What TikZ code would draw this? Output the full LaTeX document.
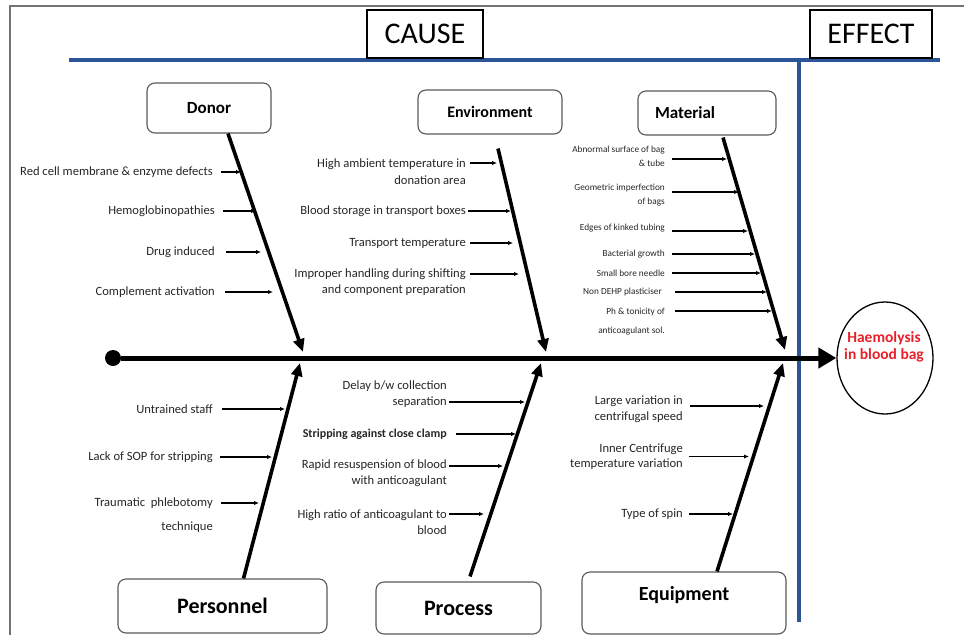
\documentclass[tikz,border=0pt]{standalone}
\usepackage{fontspec}
\setmainfont{Carlito}
\usetikzlibrary{arrows.meta,calc,shapes.geometric}
\definecolor{causeblue}{RGB}{43,85,151}
\definecolor{effred}{RGB}{232,32,42}

\begin{document}
\begin{tikzpicture}[x=1pt,y=-1pt,
    head/.style={draw=black,fill=white,line width=1.2pt,minimum height=48pt,inner sep=0pt,font=\fontsize{30}{30}\selectfont},
    cat/.style={draw=black!65,fill=white,rounded corners=8pt,line width=1.1pt,inner sep=0pt,font=\bfseries\fontsize{17}{17}\selectfont},
    lbl/.style={anchor=east,align=right,inner sep=0pt,text=black!85,font=\fontsize{12.6}{17}\selectfont},
    small/.style={lbl,font=\fontsize{9.3}{14}\selectfont},
    sub/.style={line width=1.2pt,-{Latex[length=5pt,width=4.5pt]}},
    bone/.style={line width=3.6pt,-{Triangle[length=13pt,width=11pt]}},
    spine/.style={line width=5pt,-{Triangle[length=18pt,width=20pt]}}]
  \useasboundingbox (0,0) rectangle (964,635);
  % frame and cause / effect bar
  \draw[black!55,line width=1.3pt] (10,635) -- (10,6) -- (964,6);
  \draw[causeblue,line width=4pt] (69,60) -- (940,60);
  \draw[causeblue,line width=4pt] (799,60) -- (799,622);
  \node[head,minimum width=116pt] (cause) at (425,34) {CAUSE};
  \node[head,minimum width=122pt] (effect) at (871,34) {EFFECT};

  % main categories
  \node[cat,minimum width=124pt,minimum height=50pt] (donor) at (209,108) {Donor};
  \node[cat,minimum width=144pt,minimum height=44pt,font=\bfseries\fontsize{16}{16}\selectfont] (env) at (490,112) {Environment};
  \node[cat,minimum width=138pt,minimum height=44pt,text width=104pt,inner xsep=17pt,align=left] (mat) at (707,113) {Material};
  \node[cat,minimum width=209pt,minimum height=54pt,font=\bfseries\fontsize{22}{22}\selectfont] (pers) at (222.5,606) {Personnel};
  \node[cat,minimum width=165pt,minimum height=52pt,font=\bfseries\fontsize{22}{22}\selectfont] (proc) at (458.5,608) {Process};
  \node[cat,minimum width=204pt,minimum height=62pt,text height=14pt,text depth=20pt,font=\bfseries\fontsize{20}{20}\selectfont] (equip) at (684,603) {Equipment};

  % spine and effect
  \node[circle,fill=black,minimum size=16pt,inner sep=0pt] (tail) at (113,358) {};
  \node[draw,ellipse,line width=1.3pt,minimum width=96pt,minimum height=112pt] (eff) at (885,358) {};
  \node[align=center,text=effred,font=\bfseries\fontsize{15.5}{17.5}\selectfont] (efftext) at (884,347) {Haemolysis\\in blood bag};
  \draw[spine] (tail) -- (eff.west);

  % bones
  \coordinate (dtip) at (303,352);
  \coordinate (etip) at (546,352);
  \coordinate (mtip) at (785,350);
  \coordinate (ptip) at (300,363);
  \coordinate (rtip) at (541,363);
  \coordinate (qtip) at (783,363);
  \draw[bone] ([xshift=19pt]donor.south) -- (dtip);
  \draw[bone] ([xshift=8pt,yshift=-14pt]env.south) -- (etip);
  \draw[bone] ([xshift=16pt,yshift=-2pt]mat.south) -- (mtip);
  \draw[bone] ([xshift=21pt]pers.north) -- (ptip);
  \draw[bone] ([xshift=11.5pt,yshift=5pt]proc.north) -- (rtip);
  \draw[bone] ([xshift=33pt]equip.north) -- (qtip);

  % donor causes
  \node[lbl] (d1) at (213,172) {Red cell membrane \& enzyme defects};
  \node[lbl] (d2) at (215,211) {Hemoglobinopathies};
  \node[lbl] (d3) at (215,252) {Drug induced};
  \node[lbl] (d4) at (215,292) {Complement activation};
  \draw[sub] ($(d1.east)+(8,0)$) -- +(20,0);
  \draw[sub] ($(d2.east)+(8,0)$) -- +(33,0);
  \draw[sub] ($(d3.east)+(11,0)$) -- +(35,0);
  \draw[sub] ($(d4.east)+(10,0)$) -- +(48,0);

  % environment causes
  \node[lbl] (e1) at (466,171.5) {High ambient temperature in\\donation area};
  \node[lbl] (e2) at (466,211) {Blood storage in transport boxes};
  \node[lbl] (e3) at (466,243) {Transport temperature};
  \node[lbl,font=\fontsize{12.6}{16}\selectfont] (e4) at (466,282) {Improper handling during shifting\\and component preparation};
  \draw[sub] ($(e1.east)+(4,-8.5)$) -- +(27,0);
  \draw[sub] ($(e2.east)+(2,0)$) -- +(43,0);
  \draw[sub] ($(e3.east)+(4,0)$) -- +(43,0);
  \draw[sub] ($(e4.east)+(4,-8)$) -- +(49,0);

  % material causes
  \node[small] (m1) at (665,156.5) {Abnormal surface of bag\\\& tube};
  \node[small] (m2) at (665,195) {Geometric imperfection\\of bags};
  \node[small] (m3) at (665,228) {Edges of kinked tubing};
  \node[small] (m4) at (665,254) {Bacterial growth};
  \node[small] (m5) at (665,273) {Small bore needle};
  \node[small] (m6) at (662,292) {Non DEHP plasticiser};
  \node[small,font=\fontsize{9.3}{19}\selectfont] (m7) at (665,321.5) {Ph \& tonicity of\\anticoagulant sol.};
  \draw[sub] ($(m1.east)+(7,2.5)$) -- +(55,0);
  \draw[sub] ($(m2.east)+(7,-3)$) -- +(67,0);
  \draw[sub] ($(m3.east)+(7,3)$) -- +(76,0);
  \draw[sub] ($(m4.east)+(7,0)$) -- +(83,0);
  \draw[sub] ($(m5.east)+(7,0)$) -- +(89,0);
  \draw[sub] ($(m6.east)+(13,0)$) -- +(92,0);
  \draw[sub] ($(m7.east)+(10,-10.5)$) -- +(97,0);

  % personnel causes
  \node[lbl] (p1) at (213,409) {Untrained staff};
  \node[lbl] (p2) at (213,457) {Lack of SOP for stripping};
  \node[lbl,font=\fontsize{12.6}{24}\selectfont] (p3) at (213,515) {Traumatic\ \ phlebotomy\\technique};
  \draw[sub] ($(p1.east)+(9,0)$) -- +(63,0);
  \draw[sub] ($(p2.east)+(7,0)$) -- +(52,0);
  \draw[sub] ($(p3.east)+(8,-12)$) -- +(38,0);

  % process causes
  \node[lbl,font=\fontsize{12.6}{16}\selectfont] (r1) at (447,394) {Delay b/w collection\\separation};
  \node[lbl,font=\bfseries\fontsize{12}{16}\selectfont] (r2) at (447,434) {Stripping against close clamp};
  \node[lbl,font=\fontsize{12.6}{16}\selectfont] (r3) at (447,473) {Rapid resuspension of blood\\with anticoagulant};
  \node[lbl,font=\fontsize{12.6}{16}\selectfont] (r4) at (447,522) {High ratio of anticoagulant to\\blood};
  \draw[sub] ($(r1.east)+(2,8)$) -- +(76,0);
  \draw[sub] ($(r2.east)+(9,0)$) -- +(60,0);
  \draw[sub] ($(r3.east)+(2,-7)$) -- +(54,0);
  \draw[sub] ($(r4.east)+(2,-8)$) -- +(35,0);

  % equipment causes
  \node[lbl,font=\fontsize{12.6}{16}\selectfont] (q1) at (683,409) {Large variation in\\centrifugal speed};
  \node[lbl,font=\fontsize{12.6}{15}\selectfont] (q2) at (683,456.5) {Inner Centrifuge\\temperature variation};
  \node[lbl] (q3) at (683,514) {Type of spin};
  \draw[sub] ($(q1.east)+(7,-3)$) -- +(74,0);
  \draw[sub] ($(q2.east)+(6,0)$) -- +(60,0);
  \draw[sub] ($(q3.east)+(6,0)$) -- +(44,0);
\end{tikzpicture}
\end{document}
